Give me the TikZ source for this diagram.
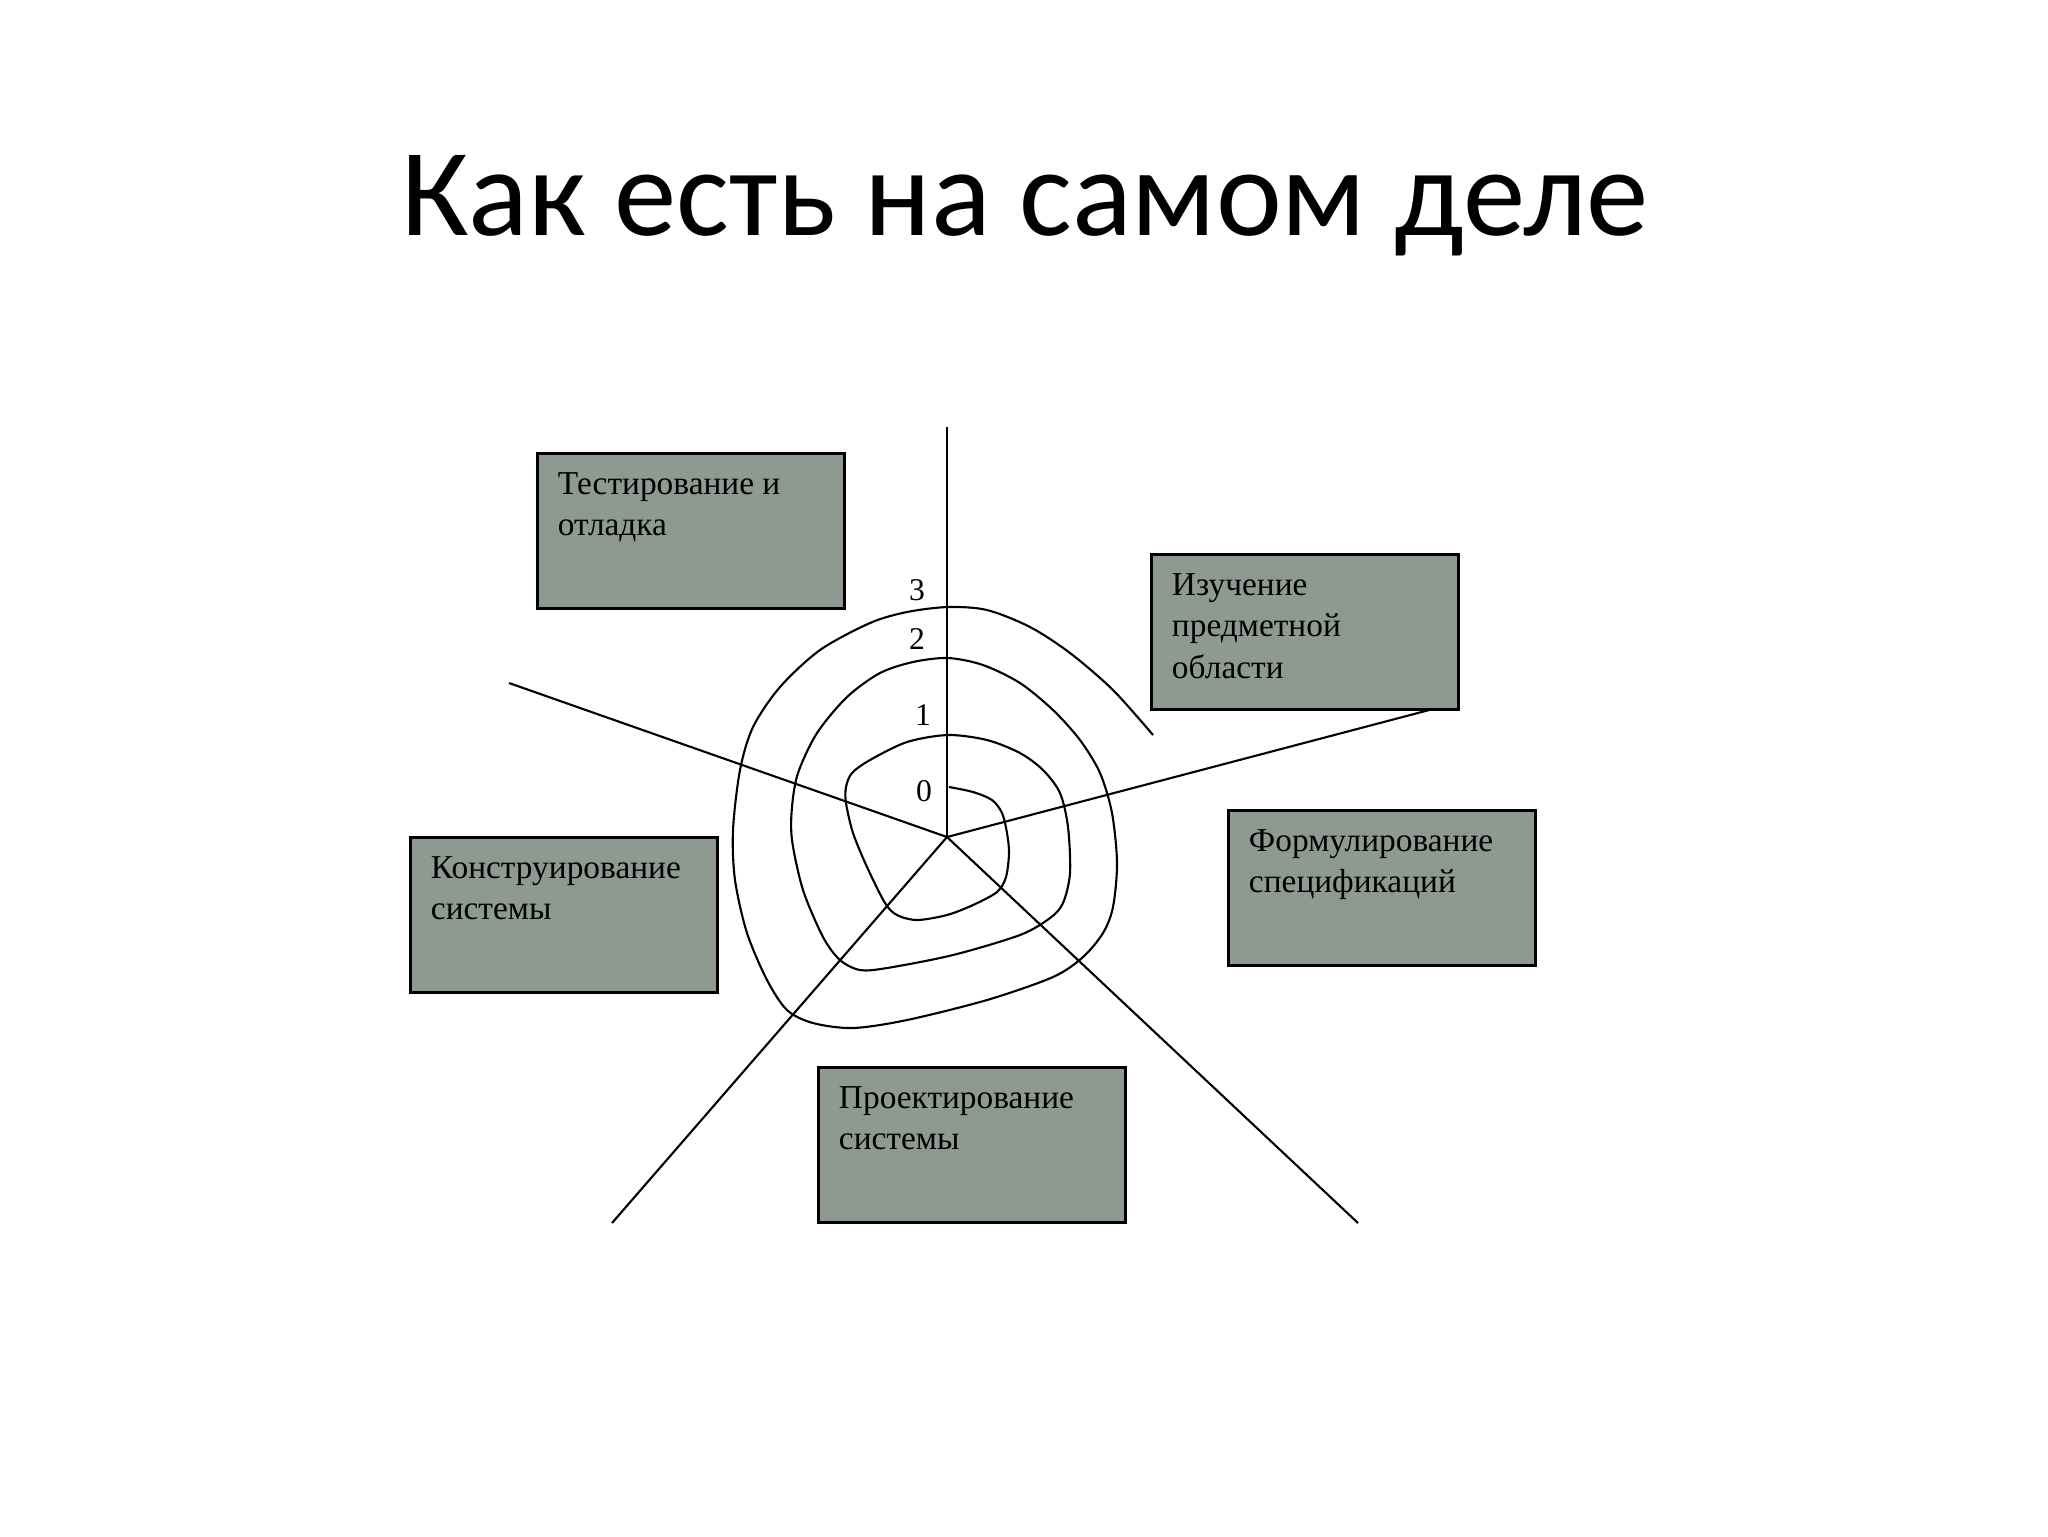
\documentclass[tikz,border=0pt]{standalone}
\usepackage{fontspec}
\setmainfont{Liberation Serif}
\newfontfamily\titlefont{Carlito}
\usepackage{tikz}
\usetikzlibrary{arrows,positioning}
\definecolor{boxgray}{RGB}{141,153,145}

\begin{document}
\begin{tikzpicture}[x=0.1mm,y=-0.1mm,line width=0.6pt,
                    phase/.style={draw=black,line width=0.9pt,fill=boxgray,
                                  minimum width=30.7mm,minimum height=15.5mm,inner sep=0pt},
                    phasetext/.style={anchor=north west,align=left,inner sep=0pt,
                                      xshift=2.1mm,yshift=-2mm,
                                      font=\fontsize{9.5}{11.7}\selectfont},
                    level/.style={font=\fontsize{9}{11}\selectfont}]
  \useasboundingbox (0,0) rectangle (2048,1536);

  \node[anchor=base,font=\titlefont\fontsize{35.5}{40}\selectfont] (title) at (1025,235)
       {Как есть на самом деле};

  % spokes
  \coordinate (C) at (947,837);
  \coordinate (up) at (947,427);
  \coordinate (ur) at (1433,709);
  \coordinate (ul) at (509,683);
  \coordinate (dl) at (612,1223);
  \coordinate (dr) at (1358,1223);

  \path[draw] (C) edge (up)
                  edge (ur)
                  edge (ul)
                  edge (dl)
                  edge (dr);

  % spiral
  \draw plot[smooth,tension=0.5] coordinates {
      (949,787) (973,792) (992,800) (1002,813) (1007,833) (1009,853)
      (1006,877) (997,892) (973,905) (947,915) (917,920) (897,915)
      (885,903) (867,867) (853,833) (846,803) (846,787) (852,773)
      (870,760) (907,742) (948,735) (987,740) (1020,753) (1043,770)
      (1060,793) (1068,827) (1070,873) (1063,903) (1050,918) (1020,935)
      (953,955) (887,968) (860,970) (840,960) (823,937) (803,890)
      (792,840) (792,807) (798,773) (817,733) (847,697) (880,673)
      (913,662) (948,658) (983,665) (1020,683) (1053,710) (1080,740)
      (1100,773) (1112,813) (1117,863) (1113,907) (1103,933) (1083,957)
      (1053,977) (987,1000) (907,1020) (853,1028) (813,1023) (787,1010)
      (767,980) (747,933) (735,880) (733,830) (740,770) (753,727)
      (780,687) (820,650) (870,623) (907,612) (948,607) (987,610)
      (1030,627) (1070,653) (1113,690) (1153,735)};

  \node[level] (l3) at (917,590) {3};
  \node[level] (l2) at (917,639) {2};
  \node[level] (l1) at (923,715) {1};
  \node[level] (l0) at (924,791) {0};

  % phases
  \node[phase] (test)   at (691,531)    {};
  \node[phase] (study)  at (1305,632)   {};
  \node[phase] (spec)   at (1382,888)   {};
  \node[phase] (constr) at (564,915)    {};
  \node[phase] (design) at (972,1145)   {};

  \node[phasetext] at (test.north west)   {Тестирование и\\отладка};
  \node[phasetext] at (study.north west)  {Изучение\\предметной\\области};
  \node[phasetext] at (spec.north west)   {Формулирование\\спецификаций};
  \node[phasetext] at (constr.north west) {Конструирование\\системы};
  \node[phasetext] at (design.north west) {Проектирование\\системы};
\end{tikzpicture}
\end{document}
